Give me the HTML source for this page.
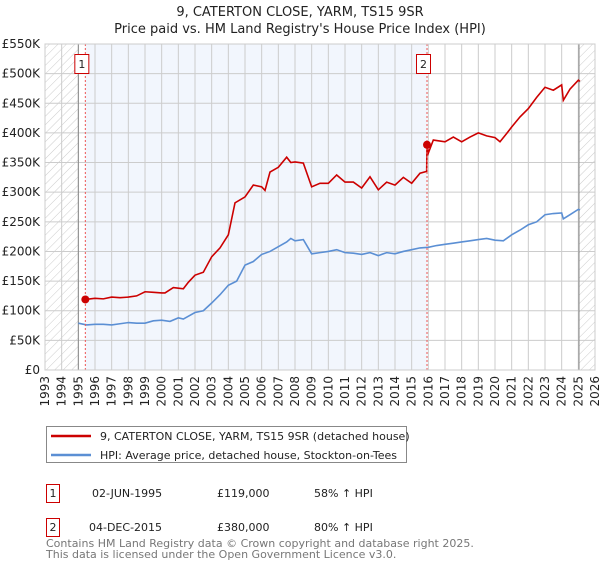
<!DOCTYPE html>
<html><head><meta charset="utf-8"><style>
body{margin:0;background:#fff;font-family:"Liberation Sans","DejaVu Sans",sans-serif;}
svg text{font-family:"DejaVu Sans","Liberation Sans",sans-serif;}
</style></head><body>
<svg id="c" width="600" height="560" xmlns="http://www.w3.org/2000/svg">
<defs><pattern id="hatch" width="6" height="6" patternUnits="userSpaceOnUse" patternTransform="rotate(45)"><line x1="0" y1="0" x2="0" y2="6" stroke="#ccc" stroke-width="1"/></pattern></defs>
<text x="300" y="16" text-anchor="middle" font-size="13" fill="#222">9, CATERTON CLOSE, YARM, TS15 9SR</text>
<text x="300" y="33" text-anchor="middle" font-size="13" fill="#222">Price paid vs. HM Land Registry's House Price Index (HPI)</text>
<g id="plot"></g>
<g>
<rect x="46.5" y="426.5" width="360" height="36" fill="#fff" stroke="#888"/>
<line x1="51" y1="436" x2="91" y2="436" stroke="#cc0000" stroke-width="2.5"/>
<text x="100" y="440" font-size="11" fill="#222">9, CATERTON CLOSE, YARM, TS15 9SR (detached house)</text>
<line x1="51" y1="455" x2="91" y2="455" stroke="#5b8fd4" stroke-width="2.5"/>
<text x="100" y="459" font-size="11" fill="#222">HPI: Average price, detached house, Stockton-on-Tees</text>
</g>
<g font-size="11" fill="#222">
<rect x="46.5" y="484.5" width="13" height="18" fill="#fff" stroke="#cc0000"/><text x="53" y="497" text-anchor="middle">1</text>
<text x="92" y="497">02-JUN-1995</text><text x="217" y="497">£119,000</text><text x="314" y="497">58% ↑ HPI</text>
<rect x="46.5" y="518.5" width="13" height="18" fill="#fff" stroke="#cc0000"/><text x="53" y="531" text-anchor="middle">2</text>
<text x="89" y="531">04-DEC-2015</text><text x="217" y="531">£380,000</text><text x="314" y="531">80% ↑ HPI</text>
</g>
<text x="46" y="547" font-size="11" fill="#777">Contains HM Land Registry data © Crown copyright and database right 2025.</text>
<text x="46" y="558" font-size="11" fill="#777">This data is licensed under the Open Government Licence v3.0.</text>
</svg>
<script>
const hpiYears=[1995,1995.5,1996,1996.5,1997,1997.5,1998,1998.5,1999,1999.5,2000,2000.5,2001,2001.3,2002,2002.5,2003,2003.5,2004,2004.5,2005,2005.5,2006,2006.5,2007,2007.5,2007.75,2008,2008.5,2009,2009.5,2010,2010.5,2011,2011.5,2012,2012.5,2013,2013.5,2014,2014.5,2015,2015.5,2016,2016.5,2017,2017.5,2018,2018.5,2019,2019.5,2020,2020.5,2021,2021.5,2022,2022.5,2023,2023.5,2024,2024.1,2024.5,2025,2025.1];
const hpiValues=[79,76,77,77,76,78,80,79,79,83,84,82,88,86,97,100,113,127,143,150,177,183,195,200,208,216,222,218,220,196,198,200,203,198,197,195,198,193,198,196,200,203,206,207,210,212,214,216,218,220,222,219,218,228,236,245,250,262,264,265,255,262,271,270];
const redYears=[1995.42,1996,1996.5,1997,1997.5,1998,1998.5,1999,1999.5,2000,2000.2,2000.7,2001,2001.3,2001.6,2002,2002.5,2003,2003.5,2004,2004.4,2005,2005.5,2006,2006.2,2006.5,2007,2007.5,2007.75,2008,2008.5,2009,2009.5,2010,2010.5,2011,2011.5,2012,2012.5,2013,2013.5,2014,2014.5,2015,2015.5,2015.9,2015.92,2016,2016.3,2017,2017.5,2018,2018.5,2019,2019.5,2020,2020.3,2020.7,2021,2021.5,2022,2022.5,2023,2023.5,2024,2024.1,2024.5,2025,2025.1];
const redValues=[119,121,120,123,122,123,125,132,131,130,130,139,138,137,148,160,165,191,206,228,282,292,312,309,303,334,342,359,350,351,349,309,315,315,329,317,317,307,326,304,317,312,325,315,332,335,380,366,388,385,393,385,393,400,395,392,385,399,410,427,441,460,477,472,481,455,474,489,487];
const sales=[{n:"1",year:1995.42,value:119},{n:"2",year:2015.92,value:380}];
const yTicks=[0,50,100,150,200,250,300,350,400,450,500,550];
const yTickLabels=["£0","£50K","£100K","£150K","£200K","£250K","£300K","£350K","£400K","£450K","£500K","£550K"];
const xTicks=[];for(let y=1993;y<=2026;y++)xTicks.push(y);
const NS="http://www.w3.org/2000/svg";
const L=45,R=595,T=44,B=370,X0=1993,X1=2026,YMAX=550;
const sx=v=>L+(v-X0)/(X1-X0)*(R-L);
const sy=v=>B-v/YMAX*(B-T);
const g=document.getElementById('plot');
function mk(tag,attrs,parent){const e=document.createElementNS(NS,tag);for(const k in attrs)e.setAttribute(k,attrs[k]);(parent||g).appendChild(e);return e;}
let e;
e=mk('rect',{x:L,y:T,width:R-L,height:B-T,fill:'#fff'});


e=mk('rect',{x:sx(sales[0].year),y:T,width:sx(sales[1].year)-sx(sales[0].year),height:B-T,fill:'#f2f6fd'});


e=mk('rect',{x:L,y:T,width:sx(1995)-L,height:B-T,fill:'url(#hatch)'});


e=mk('rect',{x:sx(2025.04),y:T,width:R-sx(2025.04),height:B-T,fill:'url(#hatch)'});


yTicks.forEach((t,i)=>{
 e=mk('line',{x1:L,x2:R,y1:sy(t),y2:sy(t),stroke:'#ccc','stroke-width':1});
 
 
 e=mk('text',{x:L-5,y:sy(t)+4,'text-anchor':'end','font-size':12,fill:'#222'});
 e.textContent=yTickLabels[i];
 
 
});
xTicks.forEach(t=>{
 e=mk('line',{x1:sx(t),x2:sx(t),y1:T,y2:B,stroke:'#ccc','stroke-width':1});
 
 
 e=mk('text',{x:0,y:0,'text-anchor':'end','font-size':12,fill:'#222',transform:`translate(${sx(t)+4},${B+6}) rotate(-90)`});
 e.textContent=String(t);
 
 
});
e=mk('line',{x1:sx(1995),x2:sx(1995),y1:T,y2:B,stroke:'#888','stroke-width':1});


e=mk('line',{x1:sx(2025.04),x2:sx(2025.04),y1:T,y2:B,stroke:'#888','stroke-width':1});


e=mk('polyline',{points:hpiYears.map((y,i)=>sx(y)+','+sy(hpiValues[i])).join(' '),fill:'none',stroke:'#5b8fd4','stroke-width':1.6});


e=mk('polyline',{points:redYears.map((y,i)=>sx(y)+','+sy(redValues[i])).join(' '),fill:'none',stroke:'#cc0000','stroke-width':1.6});


sales.forEach(s=>{
 e=mk('line',{x1:sx(s.year),x2:sx(s.year),y1:T,y2:B,stroke:'#e55','stroke-width':1,'stroke-dasharray':'2,2'});
 
 
 e=mk('circle',{cx:sx(s.year),cy:sy(s.value),r:4,fill:'#cc0000'});
 
 
 e=mk('rect',{x:sx(s.year)-10.5,y:54.5,width:14,height:19,fill:'#fff',stroke:'#cc0000'});
 
 
 e=mk('text',{x:sx(s.year)-3.5,y:68,'text-anchor':'middle','font-size':11,fill:'#222'});
 e.textContent=s.n;
 
 
});
e=mk('rect',{x:L,y:T,width:R-L,height:B-T,fill:'none',stroke:'#ccc'});


</script>
</body></html>
